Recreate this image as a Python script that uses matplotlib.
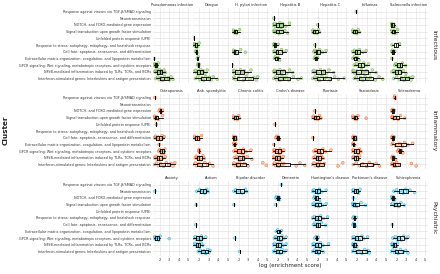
import numpy as np
import matplotlib.pyplot as plt

# cluster labels, top to bottom (index 1..11)
categories = [
    "Response against viruses via TGF-\u03b2/SMAD signaling",
    "Neurotransmission",
    "NOTCH- and FOXO-mediated gene expression",
    "Signal transduction upon growth factor stimulation",
    "Unfolded protein response (UPR)",
    "Response to stress: autophagy, mitophagy, and heatshock response",
    "Cell fate: apoptosis, senescence, and differentiation",
    "Extracellular matrix organization, coagulation, and lipoprotein metabolism",
    "GPCR signaling: Wnt signaling, metabotropic receptors, and cytokine receptors",
    "NFkB-mediated inflammation induced by TLRs, TCRs, and BCRs",
    "Interferon-stimulated genes: Interleukins and antigen presentation",
]

groups = ["Infectious", "Inflammatory", "Psychiatric"]
infectious_names = ["Pseudomonas infection", "Dengue", "H. pylori infection", "Hepatitis B",
                    "Hepatitis C", "Influenza", "Salmonella infection"]
inflammatory_names = ["Osteoporosis", "Ank. spondylitis", "Chronic colitis", "Crohn's disease",
                      "Psoriasis", "Sarcoidosis", "Scleroderma"]
psychiatric_names = ["Anxiety", "Autism", "Bipolar disorder", "Dementia",
                     "Huntington's disease", "Parkinson's disease", "Schizophrenia"]

# log enrichment scores per cluster index
pseudomonas = {8: [1.42], 9: [1.4, 1.5, 1.55, 1.6, 1.7, 1.85],
               10: [1.45, 1.6, 1.7, 1.8, 1.9, 2.0, 2.1, 2.2, 2.3, 2.45, 2.6],
               11: [1.6, 1.8, 1.95, 2.1, 2.3, 2.5, 2.7, 2.9, 3.05, 3.2, 3.4]}
dengue = {5: [1.42], 6: [1.4, 1.5, 1.55, 1.65, 1.8, 2.0], 7: [1.6, 1.7, 1.8], 8: [1.8, 1.9],
          9: [1.85, 1.9, 1.95, 2.0], 10: [1.4, 1.6, 1.75, 1.9, 2.0, 2.15, 2.3, 2.45, 2.6, 2.85],
          11: [1.6, 1.85, 2.05, 2.3, 2.5, 2.7, 2.9, 3.1, 3.25, 3.5, 3.9]}
hpylori = {4: [1.35, 1.45, 1.55, 1.7, 1.8, 2.1], 7: [1.35, 1.45, 1.55, 1.65, 1.75, 2.2, 2.7],
           9: [1.35], 10: [1.35, 1.5, 1.6, 1.8, 2.0, 2.2, 2.4, 2.6, 2.9, 3.3],
           11: [1.4, 1.5, 1.7, 2.0, 2.5, 2.8, 3.2, 3.6, 3.85, 4.0]}
hepb = {2: [1.56], 3: [1.45, 1.6, 1.7, 1.85, 2.0, 2.2, 2.35, 2.5, 2.8, 3.2],
        4: [1.5, 1.6, 1.75, 1.9, 2.1, 2.3, 2.5, 2.7, 3.0], 6: [1.5, 1.6, 1.75, 2.0],
        7: [1.5, 1.65, 1.8, 1.95, 2.1, 2.35, 2.5, 2.85], 8: [1.6, 1.7, 1.85, 2.0, 2.15],
        10: [1.5, 1.6, 1.75, 1.9, 2.05, 2.2, 2.4, 2.6, 2.9, 3.2, 3.55],
        11: [1.55, 1.7, 1.85, 2.0, 2.2, 2.4, 2.6, 2.85, 3.1, 3.6, 4.1, 4.45]}
hepc = {3: [2.0], 4: [1.4, 1.5, 1.6, 1.75, 1.9, 2.1, 2.2], 6: [1.7],
        7: [1.6, 1.7, 1.8, 1.9, 2.05, 2.2, 2.5, 2.9], 8: [1.65, 1.75, 1.85, 2.0],
        10: [1.4, 1.6, 1.75, 1.9, 2.1, 2.3, 2.5, 2.7, 2.9, 3.2, 3.7],
        11: [1.5, 1.7, 1.85, 2.0, 2.2, 2.45, 2.7, 2.9, 3.3, 3.8, 4.2, 4.8]}
influenza = {1: [1.9], 4: [1.45, 1.55, 1.65, 1.8, 1.95, 2.1, 2.25],
             7: [1.5, 1.7, 1.8, 1.95, 2.1, 2.25, 2.6, 2.95], 8: [1.55, 1.7, 1.85, 2.0, 2.2],
             9: [1.7, 1.9, 2.1, 2.3, 2.5, 2.7, 2.95, 3.2],
             10: [1.45, 1.6, 1.75, 1.95, 2.2, 2.45, 2.7, 2.95, 3.3, 3.6, 4.0],
             11: [1.7, 1.9, 2.1, 2.35, 2.6, 2.85, 3.15, 3.4, 3.9, 4.3, 4.7]}
salmonella = {3: [1.4, 1.45, 1.55, 1.7, 1.8], 4: [1.4, 1.5, 1.6, 1.75, 1.85, 2.1], 6: [1.5, 2.3],
              7: [1.45, 1.55, 1.65, 1.8], 8: [1.5], 9: [1.8, 1.9, 2.1, 2.3, 2.5, 2.6, 2.95],
              10: [1.5, 1.7, 1.8, 1.95, 2.1, 2.3, 2.5, 2.7, 3.0],
              11: [1.7, 2.0, 2.3, 2.5, 2.75, 2.95, 3.2, 3.35, 3.5, 3.7]}

osteoporosis = {1: [1.5], 3: [1.95, 2.05, 2.15, 2.3], 4: [1.4, 1.45, 1.55, 1.7, 1.85, 2.3], 5: [1.65],
                7: [1.45, 1.55, 1.7, 1.85, 2.05, 2.25, 2.35, 2.5], 8: [1.95],
                9: [1.9, 2.0, 2.15, 2.3, 2.45, 2.55], 10: [1.45, 1.6, 1.7, 1.85, 2.0, 2.2, 2.35, 2.6],
                11: [1.45, 1.7, 1.85, 2.1, 2.4, 2.7, 2.95, 3.2, 3.4, 3.6]}
ank_spond = {7: [1.35, 1.5, 1.65, 1.8, 2.0, 2.25], 9: [1.95, 2.0, 2.05],
             10: [1.6, 1.7, 1.85, 2.0, 2.2, 2.4, 2.55],
             11: [1.35, 1.6, 1.75, 2.0, 2.3, 2.6, 2.9, 3.1, 3.45]}
colitis = {4: [1.3, 1.4, 1.55, 1.7, 1.85, 2.0, 2.1], 7: [1.35, 1.45, 1.55, 1.7, 1.75],
           8: [1.4, 1.5, 1.6, 1.7], 9: [1.5, 1.7, 1.9, 2.1, 2.3, 2.5, 2.8, 3.3],
           10: [1.55, 1.75, 1.9, 2.1, 2.3, 2.5, 2.6, 2.9, 3.4],
           11: [1.3, 1.5, 1.65, 1.8, 1.95, 2.1, 2.3, 2.6, 3.0, 4.55, 4.9]}
crohns = {5: [1.65], 7: [1.75, 1.85, 1.95, 2.05, 2.15], 8: [1.55],
          9: [1.45, 1.6, 1.75, 1.9, 2.05, 2.2, 2.4, 2.6], 10: [1.4, 1.55, 1.7, 1.85, 2.0, 2.15, 2.3, 2.55],
          11: [1.45, 1.6, 1.75, 1.9, 2.05, 2.2, 2.4, 2.6, 3.9, 4.3, 4.8]}
psoriasis = {3: [1.7], 4: [1.4, 1.55, 1.7, 1.85, 2.0, 2.2, 2.35], 7: [1.5],
             9: [1.6, 1.8, 1.95, 2.1, 2.3, 2.55, 2.8, 3.4], 10: [1.55, 1.75, 1.9, 2.05, 2.25, 2.4, 2.6],
             11: [1.4, 1.6, 1.75, 1.9, 2.05, 2.2, 2.45, 2.7, 4.15, 4.65]}
sarcoidosis = {4: [1.45, 1.55, 1.7, 1.8, 1.95, 2.1, 2.95], 7: [1.5, 1.6, 1.7, 1.85, 1.9],
               8: [1.5, 1.6, 1.75], 9: [1.45, 1.6, 1.75, 1.9, 2.1, 2.25, 2.4],
               10: [1.5, 1.65, 1.8, 1.95, 2.1, 2.25],
               11: [1.6, 1.9, 2.25, 2.6, 3.0, 3.3, 3.7, 4.0, 4.35]}
scleroderma = {1: [1.75, 1.8, 1.85], 3: [1.45, 1.55, 1.65, 1.75], 4: [1.45, 1.55, 1.7, 1.9, 2.15, 2.4, 2.85],
               7: [1.45, 1.55, 1.65, 1.75], 8: [1.5, 1.6, 1.9, 2.3, 2.6, 2.85, 3.2, 3.7],
               9: [2.1, 2.2, 2.35, 2.5, 2.65], 10: [1.5, 1.55, 1.65, 1.75, 1.9],
               11: [1.45, 1.55, 1.65, 1.75, 1.85, 2.0, 2.3, 3.55, 4.05]}

anxiety = {2: [1.5], 9: [1.4, 1.5, 1.6, 1.75, 1.9, 2.05, 3.0]}
autism = {2: [1.75, 2.05, 2.2, 2.4, 2.6, 2.8, 2.95], 4: [1.7], 7: [1.65],
          9: [1.4, 1.6, 1.7, 1.85, 2.05, 2.25, 2.4, 2.7], 10: [1.35, 1.55, 1.7, 1.85, 2.0, 2.2, 2.4],
          11: [1.9, 2.1, 2.25, 2.5, 2.7, 2.9, 3.05, 3.15]}
bipolar = {2: [1.5, 1.7, 1.8, 2.1, 2.4, 2.7, 2.85], 4: [1.5], 9: [1.6], 11: [2.1]}
dementia = {1: [2.35], 3: [1.75, 1.85, 1.95, 2.1, 2.15], 4: [1.75], 8: [1.8, 1.95, 2.15, 2.35],
            9: [1.6, 1.75, 1.9, 2.05, 2.2, 2.4, 2.6, 2.85], 10: [1.45, 1.6, 1.8, 1.95, 2.1, 2.3, 2.5, 2.85],
            11: [1.5, 1.7, 1.85, 2.0, 2.2, 2.4, 2.6, 2.85]}
huntington = {2: [1.45, 1.6, 1.75, 1.9, 2.05, 2.2, 2.45, 2.9], 3: [1.6, 1.7, 1.85, 2.0, 2.2],
              4: [1.4, 1.6, 1.75, 1.95, 2.1, 2.25, 2.5, 2.9], 6: [1.45, 1.65, 1.8, 1.95, 2.1, 2.3, 2.6, 3.05],
              7: [1.55, 1.7, 1.85, 2.0, 2.15, 2.4, 2.85], 9: [1.7, 1.85, 1.95, 2.05],
              10: [1.4, 1.6, 1.75, 1.95, 2.1, 2.3, 2.55, 3.15], 11: [1.45, 1.65, 1.8, 1.95, 2.1, 2.3, 2.6]}
parkinson = {2: [1.45, 1.6, 1.75, 1.95, 2.15, 2.3], 3: [1.6], 4: [1.45, 1.55, 1.65, 1.8, 1.95, 2.4, 2.9],
             6: [1.55, 1.65, 1.75, 1.9], 7: [1.55, 1.65, 1.8],
             9: [1.45, 1.65, 1.8, 2.0, 2.25, 2.5, 2.7, 3.1], 10: [1.5, 1.6, 1.7, 1.85, 1.95],
             11: [1.45, 1.7, 1.9, 2.2, 2.5, 2.8, 3.05, 3.15, 3.3]}
schizophrenia = {2: [1.7, 2.0, 2.2, 2.45, 2.7, 2.95, 3.15, 3.4, 3.9], 3: [1.4, 1.5, 1.6, 1.7, 1.8],
                 4: [1.35, 1.6, 1.8, 2.0, 2.2, 2.45, 2.8], 7: [1.55],
                 9: [1.6, 1.85, 2.05, 2.3, 2.5, 2.75, 3.0, 3.2], 10: [1.45, 1.55, 1.65, 1.8, 1.95, 2.1],
                 11: [1.4, 1.6, 1.8, 1.95, 2.15, 2.4, 2.7, 2.95, 3.2]}

rows = [
    (infectious_names, [pseudomonas, dengue, hpylori, hepb, hepc, influenza, salmonella], "#72b043"),
    (inflammatory_names, [osteoporosis, ank_spond, colitis, crohns, psoriasis, sarcoidosis, scleroderma], "#f26a2e"),
    (psychiatric_names, [anxiety, autism, bipolar, dementia, huntington, parkinson, schizophrenia], "#2bb5d8"),
]

# vertical jitter pattern for points (style only)
jit = [0.0, 0.22, -0.18, 0.1, -0.28, 0.3, -0.08, 0.16, -0.22, 0.26, -0.12, 0.05]

W, H = 440, 274
fig = plt.figure(figsize=(4.4, 2.74), dpi=100)

panel_w = 38
row_tops = [7.5, 93.5, 180.5]
row_h = 75

for r, (names, datasets, color) in enumerate(rows):
    for c in range(7):
        left = 153 + 39.5 * c
        ax = fig.add_axes([left / W, 1 - (row_tops[r] + row_h) / H, panel_w / W, row_h / H])
        ax.set_xlim(1.3, 5.3)
        ax.set_ylim(0.4, 11.6)
        ax.set_xticks([2, 3, 4, 5])
        ax.set_xticks([1.5, 2.5, 3.5, 4.5], minor=True)
        ax.set_yticks(range(1, 12))
        ax.grid(True, which="major", color="#e3e3e3", lw=0.5)
        ax.grid(True, which="minor", axis="x", color="#efefef", lw=0.3)
        ax.set_axisbelow(True)
        for s in ax.spines.values():
            s.set_visible(False)
        ax.tick_params(length=0, which="both", labelsize=2.6, pad=1.5, colors="#333333")
        if r == 2:
            ax.set_xticklabels(["2", "3", "4", "5"])
        else:
            ax.set_xticklabels([])
        if c == 0:
            ax.set_yticklabels(categories[::-1], fontsize=2.4)
        else:
            ax.set_yticklabels([])
        ax.set_title(names[c], fontsize=2.6, pad=1.2, color="#222222")

        data = datasets[c]
        for k, vals in data.items():
            y = 12 - k
            ys = [y + jit[i % len(jit)] for i in range(len(vals))]
            ax.scatter(vals, ys, s=4.0, facecolor=color, edgecolor="none", alpha=0.35, zorder=2)
            ax.scatter(vals, ys, s=4.0, facecolor="none", edgecolor=color, alpha=0.85,
                       linewidths=0.4, zorder=2)
            ax.boxplot([vals], positions=[y], orientation="horizontal", widths=0.55,
                       showfliers=False, showcaps=False, manage_ticks=False,
                       boxprops=dict(color="black", lw=0.6),
                       whiskerprops=dict(color="black", lw=0.6),
                       medianprops=dict(color="black", lw=0.6), zorder=3)

    # right-hand strip label
    fig.text(434 / W, 1 - (row_tops[r] + row_h / 2) / H, groups[r], rotation=-90,
             ha="center", va="center", fontsize=4.4, color="#222222")

fig.text(6 / W, 1 - 130 / H, "Cluster", rotation=90, ha="center", va="center",
         fontsize=5.2, fontweight="bold", color="#222222")
fig.text(290 / W, 1 - 266 / H, "log (enrichment score)", ha="center", va="center",
         fontsize=4.0, color="#222222")

fig.savefig("out.png", dpi=100)
